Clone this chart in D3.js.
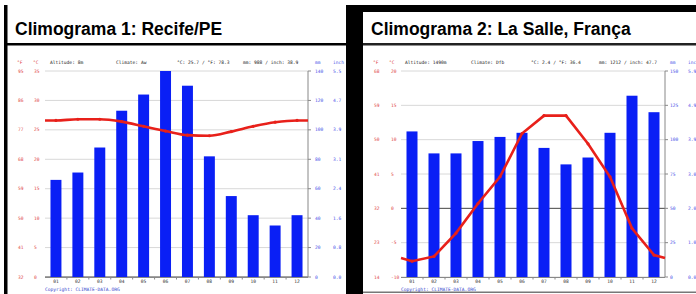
<!DOCTYPE html>
<html>
<head>
<meta charset="utf-8">
<script src="https://cdn.jsdelivr.net/npm/d3@7"></script>
<style>
  body { margin: 0; background: #fff; }
  svg { display: block; }
  .tiny { font-family: "DejaVu Sans Mono", "Liberation Mono", monospace; font-size: 4.6px; }
  .title { font-family: "Liberation Sans", Arial, sans-serif; font-weight: bold; font-size: 17.5px; }
</style>
</head>
<body>
<svg id="chart" width="696" height="294"></svg>
<script>
// months on the x axis
const months = ['01', '02', '03', '04', '05', '06', '07', '08', '09', '10', '11', '12']

// Recife/PE
const recifePrecip = [66, 71, 88, 113, 124, 140, 130, 82, 55, 42, 35, 42]
const recifeTemp = [26.6, 26.8, 26.8, 26.4, 25.6, 24.8, 24.1, 24.0, 24.7, 25.6, 26.3, 26.6]
const recifeTicksC = [0, 5, 10, 15, 20, 25, 30, 35]
const recifeTicksF = ['32', '41', '50', '59', '68', '77', '86', '95']
const recifeTicksMm = [0, 20, 40, 60, 80, 100, 120, 140]
const recifeTicksInch = ['0.0', '0.8', '1.6', '2.4', '3.1', '3.9', '4.7', '5.5']
const recifeHeader = ['Altitude: 8m', 'Climate: Aw', '°C: 25.7 / °F: 78.3', 'mm: 988 / inch: 38.9']

// La Salle, França
const salllePrecip = [106, 90, 90, 99, 102, 105, 94, 82, 87, 105, 132, 120]
const salleTemp = [-7.7, -7.0, -3.6, 0.7, 4.6, 10.9, 13.5, 13.5, 9.4, 4.6, -2.9, -6.8]
const salleTicksC = [-10, -5, 0, 5, 10, 15, 20]
const salleTicksF = ['14', '23', '32', '41', '50', '59', '68']
const salleTicksMm = [0, 25, 50, 75, 100, 125, 150]
const salleTicksInch = ['0.0', '1.0', '2.0', '3.0', '3.9', '4.9', '5.9']
const salleHeader = ['Altitude: 1490m', 'Climate: Dfb', '°C: 2.4 / °F: 36.4', 'mm: 1212 / inch: 47.7']

const svg = d3.select('#chart')
const RED = '#e8201a'
const BLUE = '#0a1ff5'
const LABEL_RED = '#e04a4a'
const LABEL_BLUE = '#4a55e8'

// panel frames
svg.append('rect').attr('x', 4).attr('y', 5).attr('width', 3.5).attr('height', 289).attr('fill', '#000')
svg.append('rect').attr('x', 4).attr('y', 43).attr('width', 342).attr('height', 2.5).attr('fill', '#000')
svg.append('rect').attr('x', 346).attr('y', 5).attr('width', 17).attr('height', 289).attr('fill', '#000')
svg.append('rect').attr('x', 346).attr('y', 5).attr('width', 350).attr('height', 7).attr('fill', '#000')
svg.append('rect').attr('x', 363).attr('y', 43).attr('width', 333).attr('height', 2.5).attr('fill', '#222')
svg.append('rect').attr('x', 363).attr('y', 291.5).attr('width', 333).attr('height', 1.5).attr('fill', '#777')

svg.append('text').attr('class', 'title').attr('x', 15).attr('y', 35).text('Climograma 1: Recife/PE')
svg.append('text').attr('class', 'title').attr('x', 371).attr('y', 35).text('Climograma 2: La Salle, França')

function drawClimo (opt) {
  const g = svg.append('g')
  const x = d3.scaleBand().domain(months).range([opt.x0, opt.x1]).paddingInner(0.5).paddingOuter(0.25)
  const yT = d3.scaleLinear().domain(d3.extent(opt.ticksC)).range([277, 71])
  const yP = d3.scaleLinear().domain(d3.extent(opt.ticksMm)).range([277, 71])

  // header
  const hx = opt.headerX
  g.append('text').attr('class', 'tiny').attr('x', hx[0]).attr('y', 63.5).attr('fill', LABEL_RED).text('°F')
  g.append('text').attr('class', 'tiny').attr('x', hx[1]).attr('y', 63.5).attr('fill', LABEL_RED).text('°C')
  opt.header.forEach((t, i) => {
    g.append('text').attr('class', 'tiny').attr('x', hx[i + 2]).attr('y', 63.5).attr('fill', '#222').text(t)
  })
  g.append('text').attr('class', 'tiny').attr('x', opt.mmX).attr('y', 63.5).attr('fill', LABEL_BLUE).text('mm')
  g.append('text').attr('class', 'tiny').attr('x', opt.inchX).attr('y', 63.5).attr('fill', LABEL_BLUE).text('inch')

  // grid lines
  g.selectAll('.grid')
    .data(opt.ticksC)
    .enter()
    .append('line')
    .attr('x1', opt.x0)
    .attr('x2', opt.x1)
    .attr('y1', d => yT(d))
    .attr('y2', d => yT(d))
    .attr('stroke', d => d === 0 ? '#444' : '#d8d8d8')
    .attr('stroke-width', 1)

  // temperature labels
  g.selectAll('.tc')
    .data(opt.ticksC)
    .enter()
    .append('text')
    .attr('class', 'tiny')
    .attr('x', opt.cX)
    .attr('y', d => yT(d) + 1.6)
    .attr('fill', LABEL_RED)
    .text(d => d)
  g.selectAll('.tf')
    .data(opt.ticksF)
    .enter()
    .append('text')
    .attr('class', 'tiny')
    .attr('x', opt.fX)
    .attr('y', (d, i) => yT(opt.ticksC[i]) + 1.6)
    .attr('fill', LABEL_RED)
    .text(d => d)

  // precipitation bars
  g.selectAll('.bar')
    .data(opt.precip)
    .enter()
    .append('rect')
    .attr('x', (d, i) => x(months[i]))
    .attr('width', x.bandwidth())
    .attr('y', d => yP(d))
    .attr('height', d => yP(0) - yP(d))
    .attr('fill', BLUE)

  // right axis
  g.append('line').attr('x1', opt.x1).attr('x2', opt.x1).attr('y1', 71).attr('y2', 277)
    .attr('stroke', '#888').attr('stroke-width', 1)
  g.selectAll('.rt')
    .data(opt.ticksMm)
    .enter()
    .append('line')
    .attr('x1', opt.x1)
    .attr('x2', opt.x1 + 3)
    .attr('y1', d => yP(d))
    .attr('y2', d => yP(d))
    .attr('stroke', '#888')
  g.selectAll('.mm')
    .data(opt.ticksMm)
    .enter()
    .append('text')
    .attr('class', 'tiny')
    .attr('x', opt.mmX)
    .attr('y', d => yP(d) + 1.6)
    .attr('fill', LABEL_BLUE)
    .text(d => d)
  g.selectAll('.inch')
    .data(opt.ticksInch)
    .enter()
    .append('text')
    .attr('class', 'tiny')
    .attr('x', opt.inchX)
    .attr('y', (d, i) => yP(opt.ticksMm[i]) + 1.6)
    .attr('fill', LABEL_BLUE)
    .text(d => d)

  // bottom axis
  g.append('line').attr('x1', opt.x0).attr('x2', opt.x1).attr('y1', 277.5).attr('y2', 277.5)
    .attr('stroke', '#888')
  const step = x.step()
  g.selectAll('.xt')
    .data(months.slice(1))
    .enter()
    .append('line')
    .attr('x1', d => x(d) - step * 0.25)
    .attr('x2', d => x(d) - step * 0.25)
    .attr('y1', 277.5)
    .attr('y2', 279.5)
    .attr('stroke', '#888')
  g.selectAll('.ml')
    .data(months)
    .enter()
    .append('text')
    .attr('class', 'tiny')
    .attr('x', d => x(d) + x.bandwidth() / 2)
    .attr('y', 283)
    .attr('text-anchor', 'middle')
    .attr('fill', '#333')
    .text(d => d)
  g.append('text').attr('class', 'tiny').attr('x', opt.x0).attr('y', 291)
    .attr('fill', '#3344cc').text('Copyright: CLIMATE-DATA.ORG')

  // temperature line, carried to the plot edges
  const edge = (opt.temp[0] + opt.temp[11]) / 2
  const pts = [[opt.x0, edge]]
    .concat(opt.temp.map((t, i) => [x(months[i]) + x.bandwidth() / 2, t]))
    .concat([[opt.x1, edge]])
  g.append('path')
    .datum(pts)
    .attr('d', d3.line().x(d => d[0]).y(d => yT(d[1])).curve(opt.curve))
    .attr('fill', 'none')
    .attr('stroke', RED)
    .attr('stroke-width', 2.6)
  g.selectAll('.pt')
    .data(opt.temp)
    .enter()
    .append('circle')
    .attr('cx', (d, i) => x(months[i]) + x.bandwidth() / 2)
    .attr('cy', d => yT(d))
    .attr('r', 1.6)
    .attr('fill', RED)
}

drawClimo({
  x0: 45,
  x1: 308,
  precip: recifePrecip,
  temp: recifeTemp,
  ticksC: recifeTicksC,
  ticksF: recifeTicksF,
  ticksMm: recifeTicksMm,
  ticksInch: recifeTicksInch,
  header: recifeHeader,
  headerX: [17, 33, 50, 116, 177, 243],
  fX: 18,
  cX: 34,
  mmX: 315,
  inchX: 333,
  curve: d3.curveMonotoneX
})

drawClimo({
  x0: 401,
  x1: 665,
  precip: salllePrecip,
  temp: salleTemp,
  ticksC: salleTicksC,
  ticksF: salleTicksF,
  ticksMm: salleTicksMm,
  ticksInch: salleTicksInch,
  header: salleHeader,
  headerX: [373, 389, 405, 471, 531, 599],
  fX: 374,
  cX: 391,
  mmX: 670,
  inchX: 688,
  curve: d3.curveLinear
})
</script>
</body>
</html>
